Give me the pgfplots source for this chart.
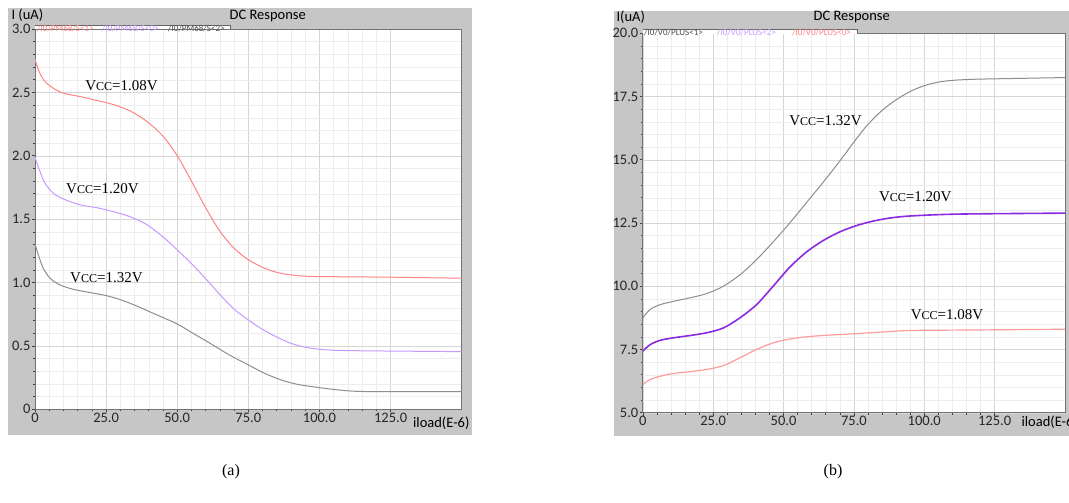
\documentclass[border=0pt]{standalone}
\usepackage{pgfplots}
\pgfplotsset{compat=1.18}
\usepackage{fontspec}
\setmainfont{Liberation Serif}
\newfontfamily\calf{Carlito}
\definecolor{bg}{HTML}{C6C6C6}
\definecolor{cred}{HTML}{FF8484}
\definecolor{cvio}{HTML}{C899FF}
\definecolor{cgray}{HTML}{8E8E8E}
\definecolor{cpur}{HTML}{8A2BE2}
\definecolor{cred2}{HTML}{FF9C9C}
\newcommand\vcc[1]{{\fontsize{15}{15}\selectfont V{\fontsize{12}{12}\selectfont CC}=#1V}}
\pgfplotsset{
  every axis/.append style={
    scale only axis,
    anchor=south west,
    axis background/.style={fill=white},
    grid=both,
    major grid style={black!16},
    minor grid style={black!7},
    axis line style={black!55, line width=0.9pt},
    tick style={black!75, line width=0.6pt},
    tick align=outside,
    major tick length=3pt,
    minor tick length=2pt,
    xtick pos=bottom, ytick pos=left,
    minor x tick num=4,
    minor y tick num=4,
    tick label style={font=\calf\fontsize{14.5}{14.5}\selectfont, text=black!85},
    xticklabel style={yshift=3pt},
    yticklabel style={xshift=2pt},
    /pgf/number format/assume math mode=true,
    xmin=0, xmax=150,
    xtick={0,25,50,75,100,125},
    xticklabels={0,25.0,50.0,75.0,100.0,125.0},
    clip=true,
  }
}
\begin{document}
\begin{tikzpicture}[x=1pt,y=-1pt]
\useasboundingbox (0,0) rectangle (1069,503);
\clip (0,0) rectangle (1069,503);
\fill[white] (0,0) rectangle (1069,503);
% panel backgrounds
\fill[bg] (8,8) rectangle (472,435);
\fill[bg] (614,11) rectangle (1069,436);
% titles
\node[font=\calf\fontsize{14.5}{14.5}\selectfont] at (267.7,16) {DC Response};
\node[font=\calf\fontsize{14.5}{14.5}\selectfont, anchor=west] at (8,15) {I (uA)};
\node[font=\calf\fontsize{14.5}{14.5}\selectfont] at (851.7,17) {DC Response};
\node[font=\calf\fontsize{14.5}{14.5}\selectfont, anchor=west] at (613,17) {I(uA)};

% ---------------- panel (a)
\begin{axis}[
  at={(35pt,-409.3pt)},
  width=426.7pt, height=380.3pt,
  ymin=0, ymax=3,
  ytick={0,0.5,1,1.5,2,2.5,3},
  yticklabels={0,0.5,1.0,1.5,2.0,2.5,3.0},
]
\addplot[cred, line width=1pt, smooth] coordinates {
(0,2.76) (1.5,2.66) (3.5,2.586) (6.4,2.534) (9.9,2.494) (15.8,2.467) (21.6,2.437) (27.4,2.405) (33.3,2.355) (39.1,2.275) (45,2.155) (50,2.0) (55,1.80) (60,1.59) (65,1.405) (70,1.27) (75,1.18) (80,1.12) (85,1.08) (90,1.06) (95,1.05) (100,1.047) (125,1.042) (150,1.034)};
\addplot[cvio, line width=1pt, smooth] coordinates {
(0,1.986) (1.75,1.876) (3.5,1.784) (6.4,1.705) (9.9,1.66) (15.8,1.613) (21.6,1.591) (27.4,1.56) (33.3,1.52) (39.1,1.46) (45,1.36) (50,1.257) (55,1.15) (60,1.03) (65,0.905) (70,0.79) (75,0.705) (80,0.63) (85,0.57) (90,0.52) (95,0.49) (100,0.474) (110,0.463) (150,0.455)};
\addplot[cgray, line width=1pt, smooth] coordinates {
(0,1.305) (1.17,1.218) (2.9,1.113) (5.3,1.034) (8.8,0.981) (13.4,0.947) (19.3,0.921) (25,0.897) (30,0.865) (35,0.822) (41.5,0.758) (50,0.673) (55.5,0.60) (62.5,0.508) (68.3,0.429) (75,0.35) (81.2,0.279) (87,0.228) (92,0.198) (97,0.18) (102,0.165) (107,0.152) (112,0.143) (118,0.14) (150,0.139)};
\node at (axis cs:30.4,2.552) {\vcc{1.08}};
\node at (axis cs:23.7,1.739) {\vcc{1.20}};
\node at (axis cs:25.1,1.04) {\vcc{1.32}};
\end{axis}
% legend tab (a)
\fill[white] (35,25) rectangle (230,29.5);
\draw[black!60, line width=0.8pt] (35,25) -- (230,25) -- (230,29.3);
\node[font=\calf\fontsize{9}{9}\selectfont, text=cred, anchor=west, inner sep=0] at (37,29) {/I0/PM68/S<1>};
\node[font=\calf\fontsize{9}{9}\selectfont, text=cvio, anchor=west, inner sep=0] at (102,29) {/I0/PM68/S<0>};
\node[font=\calf\fontsize{9}{9}\selectfont, text=black!70, anchor=west, inner sep=0] at (168,29) {/I0/PM68/S<2>};
\node[font=\calf\fontsize{14.5}{14.5}\selectfont, anchor=east] at (473,423) {iload(E-6)};

% ---------------- panel (b)
\begin{axis}[
  at={(642.8pt,-412.7pt)},
  width=422.2pt, height=379.4pt,
  ymin=5, ymax=20,
  ytick={5,7.5,10,12.5,15,17.5,20},
  yticklabels={5.0,7.5,10.0,12.5,15.0,17.5,20.0},
]
\addplot[cgray, line width=1pt, smooth] coordinates {
(0,8.75) (2.6,9.08) (6.1,9.27) (10.8,9.40) (16.7,9.54) (22.7,9.71) (28.6,10.0) (34.5,10.45) (40.4,11.05) (46.3,11.75) (52.2,12.5) (58.1,13.3) (64,14.1) (70,14.95) (75,15.7) (80,16.4) (85,16.95) (90,17.37) (95,17.7) (100,17.93) (105,18.07) (110,18.14) (117,18.18) (125,18.2) (150,18.25)};
\addplot[cpur, line width=1.6pt, smooth] coordinates {
(0,7.43) (2.6,7.69) (6.1,7.86) (10.8,7.96) (16.7,8.05) (22.7,8.16) (28.6,8.35) (34.5,8.75) (40.4,9.27) (46.3,10.0) (52.2,10.75) (58.1,11.35) (64,11.8) (70,12.15) (76,12.4) (82,12.58) (88,12.7) (94,12.77) (105,12.83) (117,12.86) (150,12.89)};
\addplot[cred2, line width=1.2pt, smooth] coordinates {
(0,6.12) (2.6,6.31) (6.1,6.44) (10.8,6.55) (16.7,6.62) (22.7,6.71) (28.6,6.86) (34.5,7.17) (40.4,7.5) (46.3,7.76) (52,7.91) (58.1,8.0) (65,8.06) (75,8.12) (85,8.19) (95,8.25) (117.2,8.27) (150,8.3)};
\node at (axis cs:64.9,16.54) {\vcc{1.32}};
\node at (axis cs:96.8,13.55) {\vcc{1.20}};
\node at (axis cs:108.1,8.88) {\vcc{1.08}};
\end{axis}
% legend tab (b)
\fill[white] (643,29.3) rectangle (857,33.8);
\draw[black!60, line width=0.8pt] (643,29.3) -- (857,29.3) -- (857,33.5);
\node[font=\calf\fontsize{9}{9}\selectfont, text=black!70, anchor=west, inner sep=0] at (644,33) {/I0/V0/PLUS<1>};
\node[font=\calf\fontsize{9}{9}\selectfont, text=cvio, anchor=west, inner sep=0] at (717,33) {/I0/V0/PLUS<2>};
\node[font=\calf\fontsize{9}{9}\selectfont, text=cred, anchor=west, inner sep=0] at (792,33) {/I0/V0/PLUS<0>};
\node[font=\calf\fontsize{14.5}{14.5}\selectfont, anchor=west] at (1018,422) {iload(E-6)};

% captions
\node[font=\fontsize{16}{16}\selectfont] at (231,472) {(a)};
\node[font=\fontsize{16}{16}\selectfont] at (833,472) {(b)};
\end{tikzpicture}
\end{document}
